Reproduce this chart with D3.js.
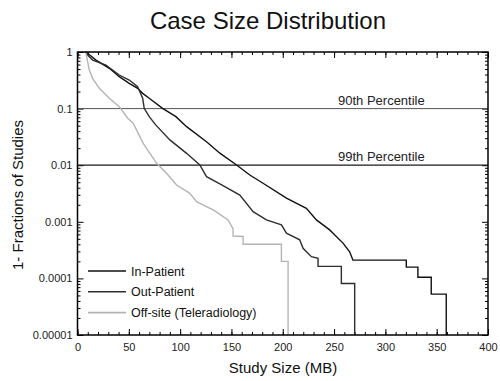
<!DOCTYPE html>
<html>
<head>
<meta charset="utf-8">
<script src="https://cdn.jsdelivr.net/npm/d3@7"></script>
<style>
body{margin:0;background:#fff;}
text{font-family:"Liberation Sans",Arial,sans-serif;}
</style>
</head>
<body>
<svg width="500" height="381"></svg>
<script>
// survival curves, [MB, 1-fraction]
var inPatient=[[8,1],[9.9,0.95],[18,0.72],[31,0.515],[40.7,0.366],[50.4,0.28],[58.6,0.228],[63.5,0.186],[69.9,0.152],
	[82.9,0.101],[95.9,0.072],[106.3,0.048],[125.7,0.026],[138.7,0.0163],[155,0.0101],[167.9,0.0067],[180.8,0.0048],
	[203.6,0.00262],[223,0.00173],[232.8,0.00108],[245.7,0.00072],[249,0.00063],[258.7,0.00042],[265.2,0.000296],
	[268.4,0.00021],[320.4,0.00021],[320.4,0.000158],[331.7,0.000158],[331.7,0.000105],[344.7,0.000105],
	[344.7,0.0000527],[359.3,0.0000527],[359.3,0.00001]];
var outPatient=[[8,1],[9.9,0.885],[14.8,0.72],[27.7,0.589],[40.7,0.392],[50.4,0.32],[58.6,0.244],[63.5,0.152],[65,0.101],
	[69.9,0.072],[76.4,0.051],[90,0.028],[106.3,0.0162],[119.2,0.0101],[125.7,0.00626],[138.7,0.00466],[158.2,0.00297],
	[171.1,0.00151],[184.1,0.00108],[198.7,0.00088],[203.6,0.00063],[216.5,0.00048],[219.8,0.00034],[227.9,0.000242],
	[234.4,0.000227],[234.4,0.000163],[257.1,0.000163],[257.1,0.0000813],[270.1,0.0000813],[270.1,0.00001]];
var offSite=[[8,1],[8.3,0.95],[9.9,0.674],[11.5,0.48],[14.8,0.343],[21.2,0.228],[31,0.152],[40.7,0.108],[48.9,0.0675],
	[54.3,0.055],[64,0.0244],[77.1,0.0108],[86.8,0.0072],[96.5,0.00447],[109.5,0.00319],[116,0.00227],[132.2,0.00162],
	[146.8,0.00108],[151.6,0.00075],[151.6,0.00056],[161.4,0.00055],[161.4,0.0004],[198.7,0.0004],[198.7,0.0002],
	[205.2,0.0002],[205.2,0.00001]];

var seriesNames=["In-Patient","Out-Patient","Off-site (Teleradiology)"];
var seriesColours=["#111","#2e2e2e","#b4b4b4"];
var percentiles=[0.1,0.01];
var percentileLabels=["90th Percentile","99th Percentile"];
var xTicks=[0,50,100,150,200,250,300,350,400];
var yTicks=[1,0.1,0.01,0.001,0.0001,0.00001];
var yTickLabels=["1","0.1","0.01","0.001","0.0001","0.00001"];

var svg=d3.select("svg");
var pLeft=77.5,pRight=488,pTop=52,pBottom=335;

var x=d3.scaleLinear().domain([0,400]).range([pLeft,pRight]);
var y=d3.scaleLog().domain([0.00001,1]).range([pBottom,pTop]);

// minor ticks
var xMinor=d3.range(0,401,10);
var yMinor=[];
for(var e=-5;e<0;e++){for(var m=2;m<10;m++){yMinor.push(m*Math.pow(10,e));}};

function noDomain(g){g.select(".domain").remove();g.selectAll("line").attr("stroke","#000");}

svg.append("g").attr("transform","translate(0,"+pBottom+")")
	.call(d3.axisBottom(x).tickValues(xMinor).tickSize(-3).tickFormat("")).call(noDomain);
svg.append("g").attr("transform","translate(0,"+pTop+")")
	.call(d3.axisTop(x).tickValues(xMinor).tickSize(-3).tickFormat("")).call(noDomain);
svg.append("g").attr("transform","translate(0,"+pTop+")")
	.call(d3.axisTop(x).tickValues(xTicks).tickSize(-6).tickFormat("")).call(noDomain);

var xAxis=svg.append("g").attr("transform","translate(0,"+pBottom+")")
	.call(d3.axisBottom(x).tickValues(xTicks).tickSize(-6).tickPadding(8)).call(noDomain);
xAxis.selectAll("text").attr("font-size",11).attr("fill","#222").style("font-family","Liberation Sans, Arial, sans-serif");

svg.append("g").attr("transform","translate("+pLeft+",0)")
	.call(d3.axisLeft(y).tickValues(yMinor).tickSize(-3).tickFormat("")).call(noDomain);
svg.append("g").attr("transform","translate("+pRight+",0)")
	.call(d3.axisRight(y).tickValues(yMinor).tickSize(-3).tickFormat("")).call(noDomain);
svg.append("g").attr("transform","translate("+pRight+",0)")
	.call(d3.axisRight(y).tickValues(yTicks).tickSize(-6).tickFormat("")).call(noDomain);

var yAxis=svg.append("g").attr("transform","translate("+pLeft+",0)")
	.call(d3.axisLeft(y).tickValues(yTicks).tickSize(-6).tickPadding(5).tickFormat(function(d,i){return yTickLabels[i];})).call(noDomain);
yAxis.selectAll("text").attr("font-size",11).attr("fill","#222").style("font-family","Liberation Sans, Arial, sans-serif");

// percentile lines
svg.selectAll(".pline").data(percentiles).enter().append("line")
	.attr("x1",pLeft).attr("x2",pRight)
	.attr("y1",function(d){return y(d);}).attr("y2",function(d){return y(d);})
	.attr("stroke",function(d,i){return i==0?"#555":"#1a1a1a";}).attr("stroke-width",function(d,i){return i==0?1:1.3;});
svg.selectAll(".plabel").data(percentiles).enter().append("text")
	.attr("x",338).attr("y",function(d){return y(d)-4;})
	.attr("font-size",13).attr("fill","#222")
	.text(function(d,i){return percentileLabels[i];});

// curves
var line=d3.line().x(function(d){return x(d[0]);}).y(function(d){return y(d[1]);});
var allSeries=[inPatient,outPatient,offSite];
svg.selectAll(".curve").data(allSeries).enter().append("path")
	.attr("d",line).attr("fill","none")
	.attr("stroke",function(d,i){return seriesColours[i];})
	.attr("stroke-width",1.4);

// frame
svg.append("rect").attr("x",pLeft).attr("y",pTop).attr("width",pRight-pLeft).attr("height",pBottom-pTop)
	.attr("fill","none").attr("stroke","#000").attr("stroke-width",1.5);

// legend
var leg=svg.append("g");
seriesNames.forEach(function(n,i){
	var ly=271+i*20.8;
	leg.append("line").attr("x1",88).attr("x2",126).attr("y1",ly).attr("y2",ly)
		.attr("stroke",seriesColours[i]).attr("stroke-width",1.6);
	leg.append("text").attr("x",131).attr("y",ly+4.5).attr("font-size",12.5).attr("fill","#111").text(n);
});

// titles
svg.append("text").attr("x",268).attr("y",29).attr("text-anchor","middle").attr("font-size",24).attr("fill","#111")
	.text("Case Size Distribution");
svg.append("text").attr("x",283).attr("y",373).attr("text-anchor","middle").attr("font-size",15).attr("fill","#111")
	.text("Study Size (MB)");
svg.append("text").attr("transform","translate(23,195) rotate(-90)").attr("text-anchor","middle").attr("font-size",15).attr("fill","#111")
	.text("1- Fractions of Studies");
</script>
</body>
</html>
